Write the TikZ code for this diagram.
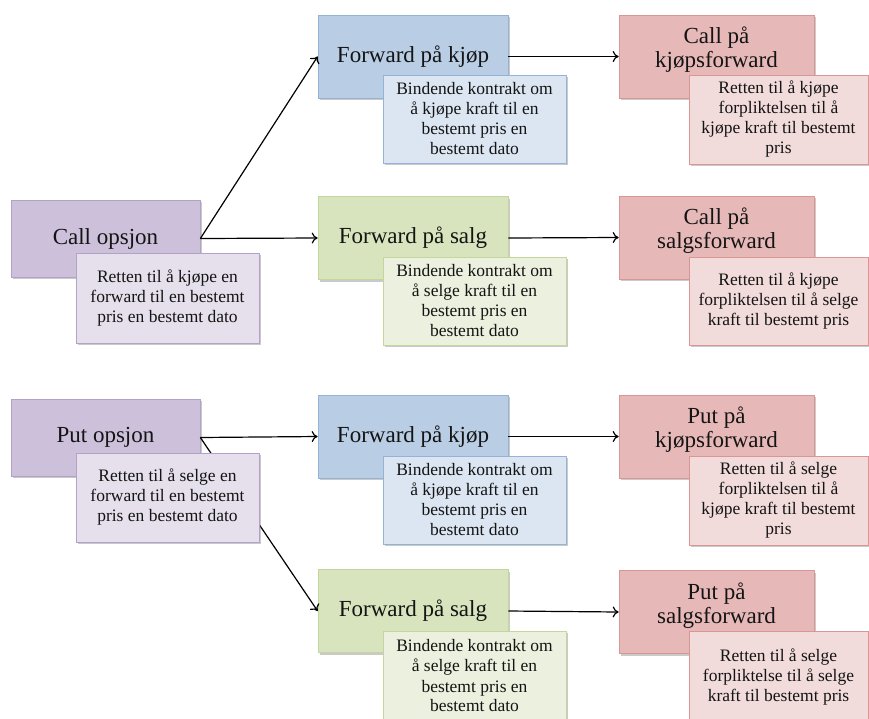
\documentclass[tikz,border=0pt]{standalone}
\usepackage{fontspec}
\setmainfont{Liberation Serif}
\usetikzlibrary{shadows,arrows.meta}

% fills and outlines of the four box families
\definecolor{purpleMain}{HTML}{CCC0DA}
\definecolor{purpleSub}{HTML}{E5E0EC}
\definecolor{purpleLine}{HTML}{B3A2C7}
\definecolor{blueMain}{HTML}{B9CDE5}
\definecolor{blueSub}{HTML}{DCE6F2}
\definecolor{blueLine}{HTML}{95B3D7}
\definecolor{greenMain}{HTML}{D7E4BD}
\definecolor{greenSub}{HTML}{EBF1DE}
\definecolor{greenLine}{HTML}{C3D69B}
\definecolor{redMain}{HTML}{E6B9B8}
\definecolor{redSub}{HTML}{F2DCDB}
\definecolor{redLine}{HTML}{D99694}
\definecolor{inkText}{HTML}{141414}

\tikzset{
  boxbase/.style={rectangle, inner sep=0pt, align=center, text=inkText,
    line width=0.7pt,
    drop shadow={shadow xshift=2.2pt, shadow yshift=-2.2pt, opacity=0.35, fill=black!60}},
  mainbox/.style={boxbase, draw=#1Line, fill=#1Main,
    minimum width=190pt, minimum height=83pt,
    font=\fontsize{23}{26}\selectfont},
  subbox/.style={boxbase, draw=#1Line, fill=#1Sub,
    minimum width=183pt, minimum height=88pt,
    font=\fontsize{17.5}{20}\selectfont},
  link/.style={draw=black, line width=1.2pt, -{To[length=6pt,width=11pt]}},
}

\begin{document}
\begin{tikzpicture}[x=1pt,y=-1pt]
\useasboundingbox (0,0) rectangle (869,718);
\clip (0,0) rectangle (869,718);

% ---- left column: the two options ----
\node[mainbox=purple, minimum width=189pt, minimum height=77pt] (callopt) at (105.5,238.5) {Call opsjon};
\node[mainbox=purple, minimum width=189pt, minimum height=77pt] (putopt)  at (105.5,437.5) {Put opsjon};

% ---- middle column: forwards ----
\node[mainbox=blue]  (fkjopA)  at (413,56.5)  {Forward på kjøp};
\node[mainbox=green] (fsalgA)  at (413,238)   {Forward på salg};
\node[mainbox=blue]  (fkjopB)  at (413,436.5) {Forward på kjøp};
\node[mainbox=green] (fsalgB)  at (413,611)   {Forward på salg};

% ---- right column: options on forwards ----
\node[mainbox=red, minimum width=195pt] (callkjop) at (716.5,56.5)
  {Call på\\[-2pt]kjøpsforward\\[-8pt]\mbox{}};
\node[mainbox=red, minimum width=195pt] (callsalg) at (716.5,237.5)
  {Call på\\[-2pt]salgsforward\\[-8pt]\mbox{}};
\node[mainbox=red, minimum width=195pt] (putkjop)  at (716.5,436.5)
  {Put på\\[-2pt]kjøpsforward\\[-8pt]\mbox{}};
\node[mainbox=red, minimum width=195pt] (putsalg)  at (716.5,612)
  {Put på\\[-2pt]salgsforward\\[-8pt]\mbox{}};

% ---- connectors ----
\draw[link] (callopt.east) -- (fkjopA.west);
\draw[link] (callopt.east) -- (fsalgA.west);
\draw[link] (putopt.east)  -- (fkjopB.west);
\draw[link] (putopt.east)  -- (fsalgB.west);
\draw[link] (fkjopA.east) -- (callkjop.west);
\draw[link] (fsalgA.east) -- (callsalg.west);
\draw[link] (fkjopB.east) -- (putkjop.west);
\draw[link] (fsalgB.east) -- (putsalg.west);

% ---- descriptions overlapping the boxes ----
\node[subbox=purple, minimum height=90pt] (callnote) at (167.5,298)
  {Retten til å kjøpe en\\forward til en bestemt\\pris en bestemt dato};
\node[subbox=purple, minimum height=89pt] (putnote) at (167.5,497.5)
  {Retten til å selge en\\forward til en bestemt\\pris en bestemt dato};

\node[subbox=blue] (fkjopAnote) at (474.5,119)
  {Bindende kontrakt om\\å kjøpe kraft til en\\bestemt pris en\\bestemt dato};
\node[subbox=green] (fsalgAnote) at (474.5,301)
  {Bindende kontrakt om\\å selge kraft til en\\bestemt pris en\\bestemt dato};
\node[subbox=blue] (fkjopBnote) at (474.5,500)
  {Bindende kontrakt om\\å kjøpe kraft til en\\bestemt pris en\\bestemt dato};
\node[subbox=green, minimum height=90pt] (fsalgBnote) at (474.5,676)
  {Bindende kontrakt om\\å selge kraft til en\\bestemt pris en\\bestemt dato};

\node[subbox=red, minimum width=179pt, minimum height=89pt] (callkjopnote) at (778.5,119.5)
  {Retten til å kjøpe\\forpliktelsen til å\\kjøpe kraft til bestemt\\pris};
\node[subbox=red, minimum width=179pt] (callsalgnote) at (778.5,301)
  {Retten til å kjøpe\\forpliktelsen til å selge\\kraft til bestemt pris};
\node[subbox=red, minimum width=179pt, minimum height=89pt] (putkjopnote) at (778.5,500.5)
  {Retten til å selge\\forpliktelsen til å\\kjøpe kraft til bestemt\\pris};
\node[subbox=red, minimum width=179pt, minimum height=92pt] (putsalgnote) at (778.5,677)
  {Retten til å selge\\forpliktelse til å selge\\kraft til bestemt pris};
\end{tikzpicture}
\end{document}
